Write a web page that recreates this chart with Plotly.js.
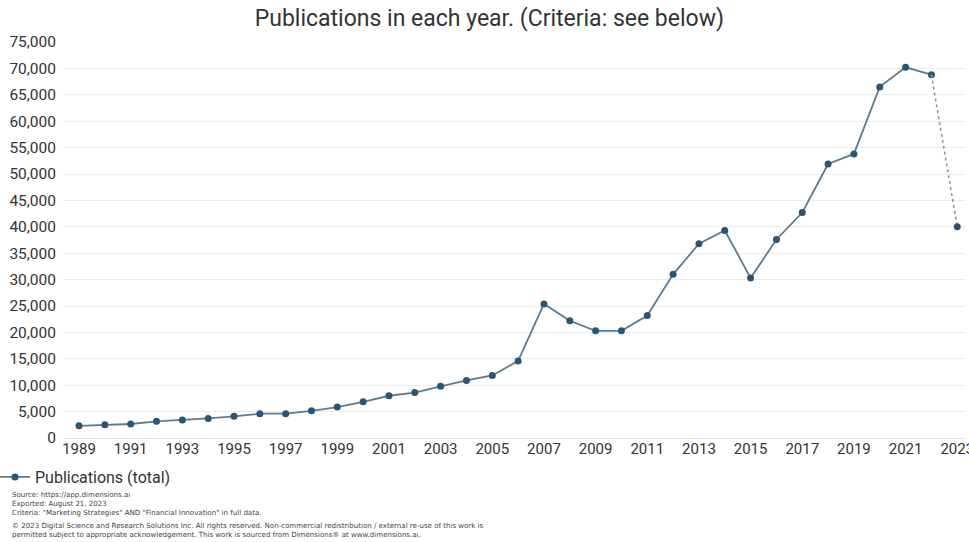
<!DOCTYPE html>
<html>
<head>
<meta charset="utf-8">
<script src="https://cdn.plot.ly/plotly-3.0.1.min.js"></script>
<style>
html,body{margin:0;padding:0;background:#fff;}
#chart{width:969px;height:542px;}
</style>
</head>
<body>
<div id="chart"></div>
<script>
const years = [1989,1990,1991,1992,1993,1994,1995,1996,1997,1998,1999,2000,2001,2002,2003,2004,2005,2006,2007,2008,2009,2010,2011,2012,2013,2014,2015,2016,2017,2018,2019,2020,2021,2022];
const publications = [2300,2500,2650,3150,3400,3700,4100,4600,4600,5150,5850,6850,8000,8600,9800,10900,11850,14600,25400,22200,20300,20300,23200,31000,36800,39300,30300,37600,42700,51900,53800,66500,70200,68800];
const partialYears = [2022,2023];
const partialValues = [68800,40000];
const yTicks = [0,5000,10000,15000,20000,25000,30000,35000,40000,45000,50000,55000,60000,65000,70000,75000];
const xTicks = [1989,1991,1993,1995,1997,1999,2001,2003,2005,2007,2009,2011,2013,2015,2017,2019,2021,2023];
const footerBlock1 = [
  "Source: https://app.dimensions.ai",
  "Exported: August 21, 2023",
  "Criteria: \"Marketing Strategies\" AND \"Financial Innovation\" in full data."
];
const footerBlock2 = [
  "© 2023 Digital Science and Research Solutions Inc. All rights reserved. Non-commercial redistribution / external re-use of this work is",
  "permitted subject to appropriate acknowledgement. This work is sourced from Dimensions® at www.dimensions.ai."
];

const lineColor = '#5d7c8f';
const markerColor = '#2c5574';

const traces = [
  {
    x: years, y: publications, type: 'scatter', mode: 'lines+markers',
    name: 'Publications (total)',
    line: {color: lineColor, width: 1.8},
    marker: {color: markerColor, size: 7},
    hoverinfo: 'x+y'
  },
  {
    x: partialYears, y: partialValues, type: 'scatter', mode: 'lines+markers',
    showlegend: false,
    line: {color: '#8a9aa4', width: 1.6, dash: 'dot'},
    marker: {color: ['rgba(0,0,0,0)', markerColor], size: 7},
    hoverinfo: 'x+y'
  }
];

const plotTop = 42, plotBottom = 438, plotLeft = 63, plotW = 902;
const toPaperY = py => (plotBottom - py) / (plotBottom - plotTop);
const toPaperX = px => (px - plotLeft) / plotW;
const footerFont = {family: '"DejaVu Sans", sans-serif', size: 7.05, color: '#444'};

const layout = {
  width: 969, height: 542,
  margin: {l: 63, r: 4, t: 42, b: 104, autoexpand: false},
  paper_bgcolor: '#fff', plot_bgcolor: '#fff',
  font: {family: 'Roboto, "Open Sans", sans-serif', color: '#333'},
  title: {text: 'Publications in each year. (Criteria: see below)', x: 0.505, xanchor: 'center', y: 0.967, yanchor: 'middle', font: {size: 23, color: '#333'}},
  xaxis: {
    range: [1988.38, 2023.3], tickmode: 'array', tickvals: xTicks, ticktext: xTicks.map(String),
    showgrid: false, zeroline: false, showline: false, ticks: '', ticklabeloverflow: 'allow', automargin: false,
    tickfont: {size: 15, color: '#333'}, fixedrange: true
  },
  yaxis: {
    range: [0, 75000], tickmode: 'array', tickvals: yTicks, ticktext: yTicks.map(v => v.toLocaleString('en-US')),
    showgrid: true, gridcolor: '#ececec', gridwidth: 1, zeroline: true, zerolinecolor: '#e0e0e0',
    showline: false, ticks: '', ticklabelstandoff: 6, automargin: false,
    tickfont: {size: 15.5, color: '#333'}, fixedrange: true
  },
  showlegend: true,
  legend: {orientation: 'h', x: toPaperX(-5), xanchor: 'left', y: toPaperY(460), yanchor: 'top', font: {size: 16, color: '#333'}, itemwidth: 30, bgcolor: 'rgba(0,0,0,0)'},
  annotations: [
    {xref: 'paper', yref: 'paper', x: toPaperX(10), y: toPaperY(503.5), xanchor: 'left', yanchor: 'middle',
     align: 'left', showarrow: false, text: footerBlock1.join('<br>'), font: footerFont},
    {xref: 'paper', yref: 'paper', x: toPaperX(10), y: toPaperY(530), xanchor: 'left', yanchor: 'middle',
     align: 'left', showarrow: false, text: footerBlock2.join('<br>'), font: footerFont}
  ]
};

Plotly.newPlot('chart', traces, layout, {displayModeBar: false, staticPlot: true});
</script>
</body>
</html>
